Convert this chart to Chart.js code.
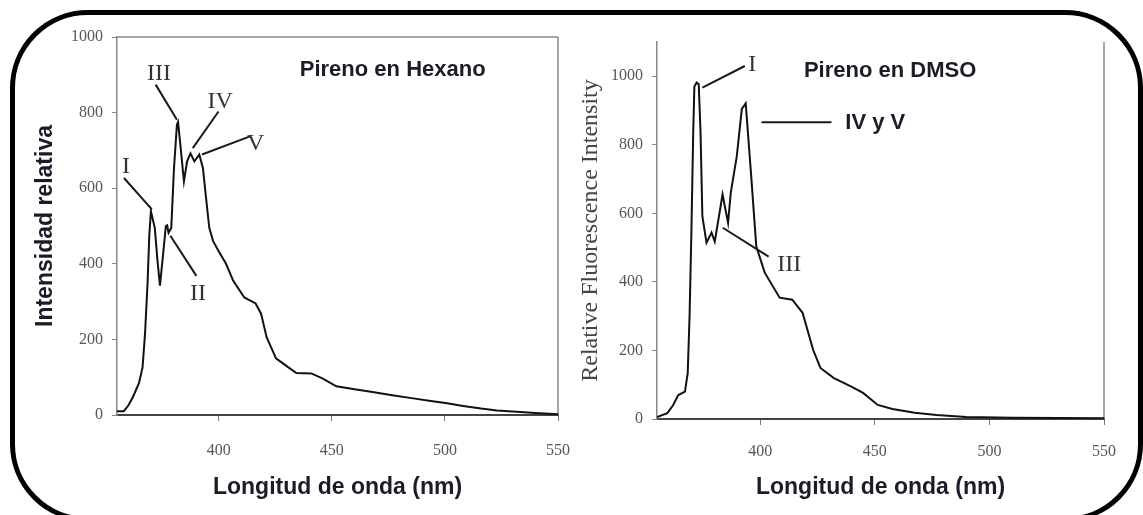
<!DOCTYPE html>
<html>
<head>
<meta charset="utf-8">
<script src="https://cdn.jsdelivr.net/npm/chart.js@4.4.1/dist/chart.umd.min.js"></script>
<style>
  html, body { margin: 0; padding: 0; background: #fff; }
  #wrap { position: relative; width: 1143px; height: 515px; overflow: hidden; }
  canvas { position: absolute; top: 0; }
  #left { left: 0; }
  #right { left: 575px; }
  #frame {
    position: absolute; left: 10px; top: 10px; width: 1133px; height: 512px;
    box-sizing: border-box; border: 5px solid #000; border-radius: 78px;
    pointer-events: none;
  }
</style>
</head>
<body>
<div id="wrap">
  <canvas id="right" width="568" height="515"></canvas>
  <canvas id="left" width="590" height="515"></canvas>
  <div id="frame"></div>
</div>
<script>
// pireno en hexano
const hexanoNm = [355, 358, 360, 362, 364.7, 366.3, 367.4, 368.5, 369.3, 370, 371.7, 372.9, 374, 375.4,
  376.6, 377.2, 377.8, 379, 380.2, 381.5, 382, 383, 384.6, 386, 387.5, 389.2, 391.4, 393, 394.2, 395.8,
  397.5, 399.9, 403.2, 406.4, 411.3, 416.3, 418.7, 421.2, 425.3, 429.4, 434.3, 440.9, 445.8, 452, 460,
  468, 476, 486, 493, 501, 508, 516, 523, 530, 540, 550];
const hexanoInt = [10, 10, 25, 47, 84, 126, 216, 347, 478, 539, 495, 408, 342, 426,
  500, 502, 482, 495, 653, 768, 775, 716, 618, 671, 692, 671, 689, 653, 584, 495,
  460, 434, 400, 355, 311, 295, 268, 205, 150, 132, 111, 110, 97, 76, 68,
  61, 53, 44, 38, 31, 24, 17, 12, 9, 5, 2];

// pireno en DMSO
const dmsoNm = [355, 359.5, 362, 364.3, 367.2, 368.4, 369.2, 370, 370.8, 371.3, 372.3, 373.2, 374, 374.8,
  376.6, 378.8, 380.2, 381.3, 383.6, 386, 387.2, 389.8, 392, 393.7, 396.2, 398.3, 402, 408.5, 414, 418.5,
  423.1, 426.3, 432, 440, 444.9, 451.3, 457.7, 467.4, 477, 489.8, 510, 530, 550];
const dmsoInt = [6, 17, 40, 70, 80, 134, 299, 543, 835, 970, 982, 977, 835, 591,
  514, 544, 518, 562, 655, 572, 661, 766, 905, 921, 699, 504, 427, 354, 348, 310,
  202, 149, 120, 94, 76, 41, 29, 18, 12, 6, 4, 3, 2];

const xTicks = [400, 450, 500, 550];
const yTicks = [0, 200, 400, 600, 800, 1000];

// roman numeral call-outs, in data units: [nm, intensity]
const hexanoLabels = [
  { text: 'III', at: [373.6, 903] },
  { text: 'IV', at: [400.6, 829] },
  { text: 'V', at: [416.3, 719] },
  { text: 'I', at: [359, 658] },
  { text: 'II', at: [390.8, 321] }
];
const hexanoLeaders = [
  [372.1, 874, 381.5, 781],
  [399.9, 803, 388.5, 706],
  [413.8, 737, 392.6, 689],
  [358.1, 627, 370.4, 544],
  [378.6, 474, 390.1, 368]
];
const dmsoLabels = [
  { text: 'I', at: [396.6, 1035] },
  { text: 'III', at: [412.7, 450] }
];
const dmsoLeaders = [
  [393.3, 1030, 374.8, 967],
  [400.6, 866, 431.1, 866],
  [383.7, 558, 403.7, 474]
];
const hexanoTitle = { text: 'Pireno en Hexano', at: [476.9, 912] };
const dmsoTitle = { text: 'Pireno en DMSO', at: [456.7, 1017] };
const dmsoPeakTag = { text: 'IV y V', at: [450.2, 865] };

const notesPlugin = {
  id: 'notes',
  afterDatasetsDraw(chart, args, opts) {
    const { ctx } = chart;
    const sx = chart.scales.x, sy = chart.scales.y;
    ctx.save();
    ctx.strokeStyle = '#1a1a1a';
    ctx.lineWidth = 2;
    opts.leaders.forEach(l => {
      ctx.beginPath();
      ctx.moveTo(sx.getPixelForValue(l[0]), sy.getPixelForValue(l[1]));
      ctx.lineTo(sx.getPixelForValue(l[2]), sy.getPixelForValue(l[3]));
      ctx.stroke();
    });
    ctx.textAlign = 'center';
    ctx.textBaseline = 'middle';
    ctx.fillStyle = '#333';
    ctx.font = '24px "Liberation Serif", serif';
    opts.labels.forEach(t => {
      ctx.fillText(t.text, sx.getPixelForValue(t.at[0]), sy.getPixelForValue(t.at[1]));
    });
    ctx.fillStyle = '#1c1c28';
    ctx.font = 'bold 22px "Liberation Sans", Arial, sans-serif';
    opts.bold.forEach(t => {
      ctx.fillText(t.text, sx.getPixelForValue(t.at[0]), sy.getPixelForValue(t.at[1]));
    });
    ctx.restore();
  }
};

const boxPlugin = {
  id: 'box',
  beforeDatasetsDraw(chart, args, opts) {
    const { ctx, chartArea: a } = chart;
    ctx.save();
    ctx.strokeStyle = '#888';
    ctx.lineWidth = 1.5;
    ctx.beginPath();
    if (opts.top) {
      ctx.moveTo(a.left, a.top);
      ctx.lineTo(a.right, a.top);
    }
    ctx.moveTo(a.right, a.top);
    ctx.lineTo(a.right, a.bottom);
    ctx.stroke();
    ctx.restore();
  }
};

function spectrum(canvasId, nm, vals, cfg) {
  return new Chart(document.getElementById(canvasId), {
    type: 'line',
    data: {
      datasets: [{
        data: nm.map((x, i) => ({ x: x, y: vals[i] })),
        borderColor: '#111',
        borderWidth: 2,
        pointRadius: 0,
        tension: 0,
        fill: false
      }]
    },
    options: {
      responsive: false,
      animation: false,
      layout: { padding: cfg.padding },
      plugins: {
        legend: { display: false },
        tooltip: { enabled: false },
        notes: { labels: cfg.labels, leaders: cfg.leaders, bold: cfg.bold },
        box: { top: cfg.boxTop }
      },
      scales: {
        x: {
          type: 'linear',
          min: 355,
          max: 550,
          afterBuildTicks: s => { s.ticks = xTicks.map(v => ({ value: v })); },
          afterFit: s => { s.height = cfg.xHeight; },
          grid: { drawOnChartArea: false, tickLength: 6, color: '#777' },
          border: { color: '#444', width: 2 },
          ticks: {
            font: { family: 'Liberation Serif', size: 16 },
            color: '#555', padding: cfg.xTickPad, maxRotation: 0,
            callback: v => String(v)
          },
          title: {
            display: true,
            text: 'Longitud de onda (nm)',
            color: '#1c1c28',
            font: { family: 'Liberation Sans', weight: 'bold', size: 23 },
            padding: { top: 0, bottom: 14 }
          }
        },
        y: {
          min: 0,
          max: cfg.yMax,
          afterBuildTicks: s => { s.ticks = yTicks.map(v => ({ value: v })); },
          afterFit: s => { s.width = cfg.yWidth; },
          grid: { drawOnChartArea: false, tickLength: 5, color: '#888' },
          border: { color: '#888', width: 1.5 },
          ticks: {
            font: { family: 'Liberation Serif', size: 16 },
            color: '#555', padding: 9,
            callback: v => String(v)
          },
          title: cfg.yTitle
        }
      }
    },
    plugins: [notesPlugin, boxPlugin]
  });
}

spectrum('left', hexanoNm, hexanoInt, {
  padding: { top: 37, right: 0, left: 0, bottom: 0 },
  xHeight: 100,
  xTickPad: 20,
  yWidth: 117,
  yMax: 1000,
  boxTop: true,
  labels: hexanoLabels,
  leaders: hexanoLeaders,
  bold: [hexanoTitle],
  yTitle: {
    display: true,
    text: 'Intensidad relativa',
    color: '#1c1c28',
    font: { family: 'Liberation Sans', weight: 'bold', size: 23 },
    padding: { top: 32, bottom: 0 }
  }
});

spectrum('right', dmsoNm, dmsoInt, {
  padding: { top: 42, right: 39, left: 0, bottom: 0 },
  xHeight: 96,
  xTickPad: 17,
  yWidth: 82,
  yMax: 1100,
  boxTop: false,
  labels: dmsoLabels,
  leaders: dmsoLeaders,
  bold: [dmsoTitle, dmsoPeakTag],
  yTitle: {
    display: true,
    text: 'Relative Fluorescence Intensity',
    color: '#444',
    font: { family: 'Liberation Serif', size: 24 },
    padding: { top: 1, bottom: 0 }
  }
});
</script>
</body>
</html>
